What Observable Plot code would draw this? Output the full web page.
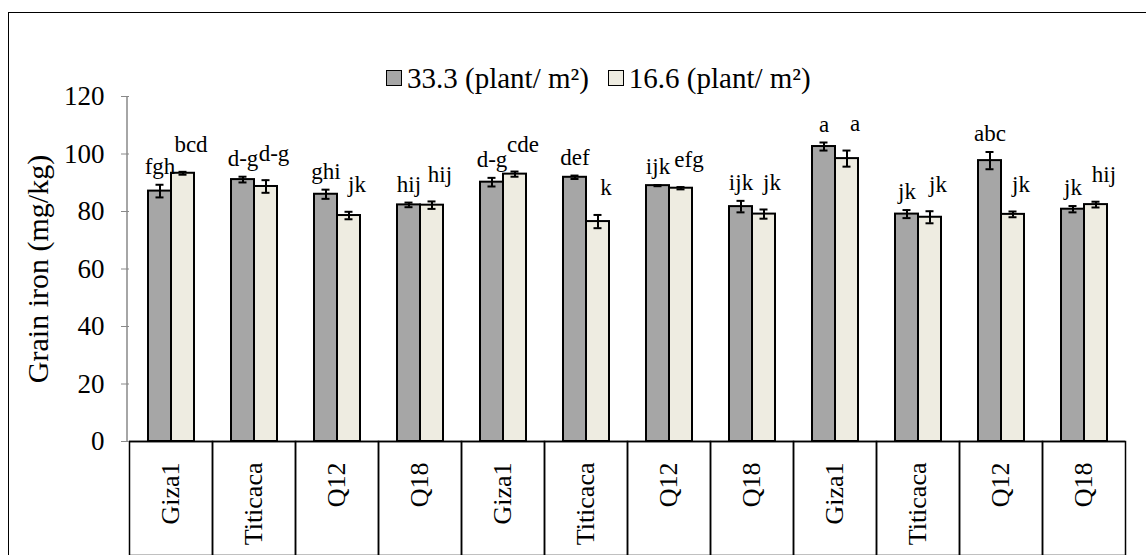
<!DOCTYPE html>
<html>
<head>
<meta charset="utf-8">
<script src="https://cdn.jsdelivr.net/npm/d3@7"></script>
<script src="https://cdn.jsdelivr.net/npm/@observablehq/plot@0.6"></script>
<style>
  body { margin: 0; background: #fff; font-family: 'Liberation Serif', serif; }
  #wrap { position: relative; width: 1146px; height: 555px; overflow: hidden; background: #fff; }
  #border { position: absolute; left: 8px; top: 12px; width: 1300px; height: 700px; border: 1.5px solid #000; box-sizing: border-box; }
  #chart { position: absolute; left: 0; top: 0; }
  #chart svg { background: transparent; }
  #legend { position: absolute; top: 62px; left: 386px; display: flex; align-items: center; font-family: 'Liberation Serif', serif; font-size: 29px; line-height: 32px; white-space: nowrap; color: #000; }
  .sw { width: 16px; height: 16px; border: 1.5px solid #000; box-sizing: border-box; margin-right: 5px; }
  .lab { margin-right: 19px; }
</style>
</head>
<body>
<div id="wrap">
  <div id="border"></div>
  <div id="chart"></div>
  <div id="legend"></div>
</div>
<script>
// ---- data ----
const cultivars = ["Giza1", "Titicaca", "Q12", "Q18", "Giza1", "Titicaca", "Q12", "Q18", "Giza1", "Titicaca", "Q12", "Q18"];
const series = ["33.3 (plant/ m²)", "16.6 (plant/ m²)"];
const seriesColors = ["#a6a6a6", "#eeece1"];

const high = [87.1, 91.1, 86.0, 82.3, 90.2, 91.9, 89.0, 81.7, 102.6, 79.1, 97.7, 80.8];
const highErr = [2.2, 1.0, 1.6, 0.8, 1.5, 0.6, 0.2, 2.0, 1.4, 1.4, 3.0, 1.1];
const highLetters = ["fgh", "d-g", "ghi", "hij", "d-g", "def", "ijk", "ijk", "a", "jk", "abc", "jk"];

const low = [93.3, 88.7, 78.6, 82.2, 93.0, 76.5, 88.1, 79.1, 98.4, 78.0, 79.0, 82.4];
const lowErr = [0.5, 2.2, 1.3, 1.3, 0.9, 2.3, 0.4, 1.6, 2.8, 2.1, 1.0, 1.0];
const lowLetters = ["bcd", "d-g", "jk", "hij", "cde", "k", "efg", "jk", "a", "jk", "jk", "hij"];

const yTicks = [0, 20, 40, 60, 80, 100, 120];
const yLabel = "Grain iron (mg/kg)";

// ---- table built from the arrays ----
const rows = [];
cultivars.forEach((c, i) => {
  rows.push({group: i, series: series[0], value: high[i], err: highErr[i], letter: highLetters[i]});
  rows.push({group: i, series: series[1], value: low[i], err: lowErr[i], letter: lowLetters[i]});
});
const rowsHigh = rows.filter(d => d.series === series[0]);
const rowsLow = rows.filter(d => d.series === series[1]);

const font = "'Liberation Serif', serif";

const plot = Plot.plot({
  width: 1146,
  height: 555,
  marginTop: 96,
  marginBottom: 114,
  marginLeft: 127,
  marginRight: 19,
  style: {fontFamily: font, background: "transparent", color: "#000"},
  fx: {domain: d3.range(cultivars.length), padding: 0},
  x: {domain: series, paddingInner: 0, paddingOuter: 0.75, axis: null},
  y: {domain: [0, 120], axis: null},
  color: {domain: series, range: seriesColors},
  marks: [
    Plot.frame({insetTop: 345, insetBottom: -114, stroke: "#000", strokeWidth: 1.5}),
    Plot.barY(rows, {fx: "group", x: "series", y: "value", fill: "series", stroke: "#000", strokeWidth: 2}),
    Plot.ruleX(rows, {fx: "group", x: "series", y1: d => d.value - d.err, y2: d => d.value + d.err, stroke: "#000", strokeWidth: 2}),
    Plot.tickY(rows, {fx: "group", x: "series", y: d => d.value - d.err, insetLeft: 7.5, insetRight: 7.5, stroke: "#000", strokeWidth: 2}),
    Plot.tickY(rows, {fx: "group", x: "series", y: d => d.value + d.err, insetLeft: 7.5, insetRight: 7.5, stroke: "#000", strokeWidth: 2}),
    Plot.ruleY([0], {stroke: "#000", strokeWidth: 1.5}),
    Plot.axisY({
      ticks: yTicks, tickSize: 8, tickPadding: 17, fontSize: 27, fontFamily: font,
      stroke: "#898989", fill: "#000", tickFormat: d => String(d), label: null
    }),
    Plot.axisY({
      ticks: [], tickSize: 0, fontSize: 30, fontFamily: font, fill: "#000",
      label: yLabel, labelAnchor: "center", labelArrow: "none", labelOffset: 103
    }),
    Plot.axisFx({
      anchor: "bottom", tickSize: 0, tickRotate: -90, tickPadding: 21, fontSize: 26, fontFamily: font,
      tickFormat: i => cultivars[i], label: null, fill: "#000"
    }),
    Plot.text(rowsHigh, {fx: "group", x: "series", y: d => d.value + d.err, text: "letter", dy: -18, fontSize: 23, fontFamily: font, fill: "#000"}),
    Plot.text(rowsLow, {fx: "group", x: "series", y: d => d.value + d.err, text: "letter", dy: -27, dx: 8, fontSize: 23, fontFamily: font, fill: "#000"})
  ]
});

document.getElementById("chart").appendChild(plot);

// y axis line through the library's y scale
const ys = plot.scale("y");
const yMap = d3.scaleLinear(ys.domain, ys.range);
d3.select(plot).append("line")
  .attr("x1", 127).attr("x2", 127)
  .attr("y1", yMap(yTicks[yTicks.length - 1])).attr("y2", yMap(yTicks[0]))
  .attr("stroke", "#898989").attr("stroke-width", 1.5);

// legend
const legend = document.getElementById("legend");
series.forEach((s, i) => {
  const sw = document.createElement("div");
  sw.className = "sw";
  sw.style.background = seriesColors[i];
  const lab = document.createElement("span");
  lab.className = "lab";
  lab.textContent = s;
  legend.appendChild(sw);
  legend.appendChild(lab);
});
</script>
</body>
</html>
